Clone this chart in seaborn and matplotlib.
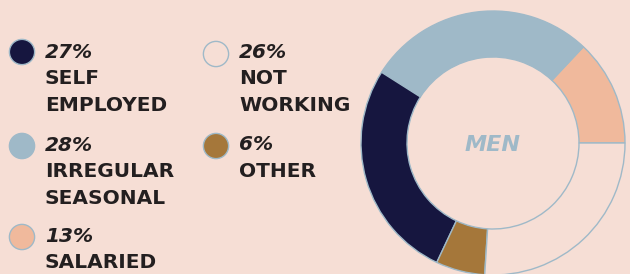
import matplotlib
matplotlib.use('Agg')
import matplotlib.pyplot as plt
import seaborn as sns
import pandas as pd

# shares of men by type of work (percent)
labels = ['SELF EMPLOYED', 'IRREGULAR SEASONAL', 'SALARIED', 'NOT WORKING', 'OTHER']
label_lines = [['SELF', 'EMPLOYED'], ['IRREGULAR', 'SEASONAL'], ['SALARIED'],
               ['NOT', 'WORKING'], ['OTHER']]
shares = [27, 28, 13, 26, 6]
ring_order = ['SALARIED', 'IRREGULAR SEASONAL', 'SELF EMPLOYED', 'OTHER', 'NOT WORKING']
center_label = 'MEN'

BG = '#F6DED5'
EDGE = '#9FB9C8'
TEXT = '#231F20'
colors = {
    'SELF EMPLOYED': '#16163F',
    'IRREGULAR SEASONAL': '#9FB9C8',
    'SALARIED': '#F0B99C',
    'NOT WORKING': BG,
    'OTHER': '#A5773A',
}

W, H = 630, 274
sns.set_style('white', {'axes.facecolor': BG, 'figure.facecolor': BG})
plt.rcParams['font.family'] = ['DejaVu Sans']

fig = plt.figure(figsize=(W / 100, H / 100), dpi=100)
ax = fig.add_axes([0, 0, 1, 1])

df = pd.DataFrame({'label': labels, 'share': shares}).set_index('label')

# donut
ring = df.loc[ring_order]
ax.pie(ring['share'], colors=[colors[k] for k in ring_order],
       startangle=0, counterclock=True, center=(493, H - 143), radius=132,
       wedgeprops=dict(width=46, edgecolor=EDGE, linewidth=1.0))
ax.text(493, H - 145, center_label, ha='center', va='center', fontsize=16,
        fontweight='bold', fontstyle='italic', color=EDGE)

# legend: marker position (px) and text baselines
legend_pos = {
    'SELF EMPLOYED': (22, 52, [58, 84, 111]),
    'IRREGULAR SEASONAL': (22, 146, [151, 177, 204]),
    'SALARIED': (22, 237, [242, 268]),
    'NOT WORKING': (216, 54, [58, 84, 111]),
    'OTHER': (216, 146, [150, 177]),
}
marker_df = pd.DataFrame({
    'x': [legend_pos[k][0] for k in labels],
    'y': [H - legend_pos[k][1] for k in labels],
    'label': labels,
})
sns.scatterplot(data=marker_df, x='x', y='y', hue='label',
                palette=[colors[k] for k in labels], s=330,
                edgecolor=EDGE, linewidth=1.0, legend=False, ax=ax, zorder=3)

for lab, lines in zip(labels, label_lines):
    x, _, ys = legend_pos[lab]
    share = df.loc[lab, 'share']
    ax.text(x + 23, H - ys[0], f'{share}%', ha='left', va='baseline',
            fontsize=14.5, fontweight='bold', fontstyle='italic', color=TEXT)
    for line, y in zip(lines, ys[1:]):
        ax.text(x + 23, H - y, line, ha='left', va='baseline',
                fontsize=14.5, fontweight='bold', color=TEXT)

ax.set_xlim(0, W)
ax.set_ylim(0, H)
ax.set_aspect('equal')
ax.axis('off')

fig.savefig('out.png', dpi=100, facecolor=BG)
